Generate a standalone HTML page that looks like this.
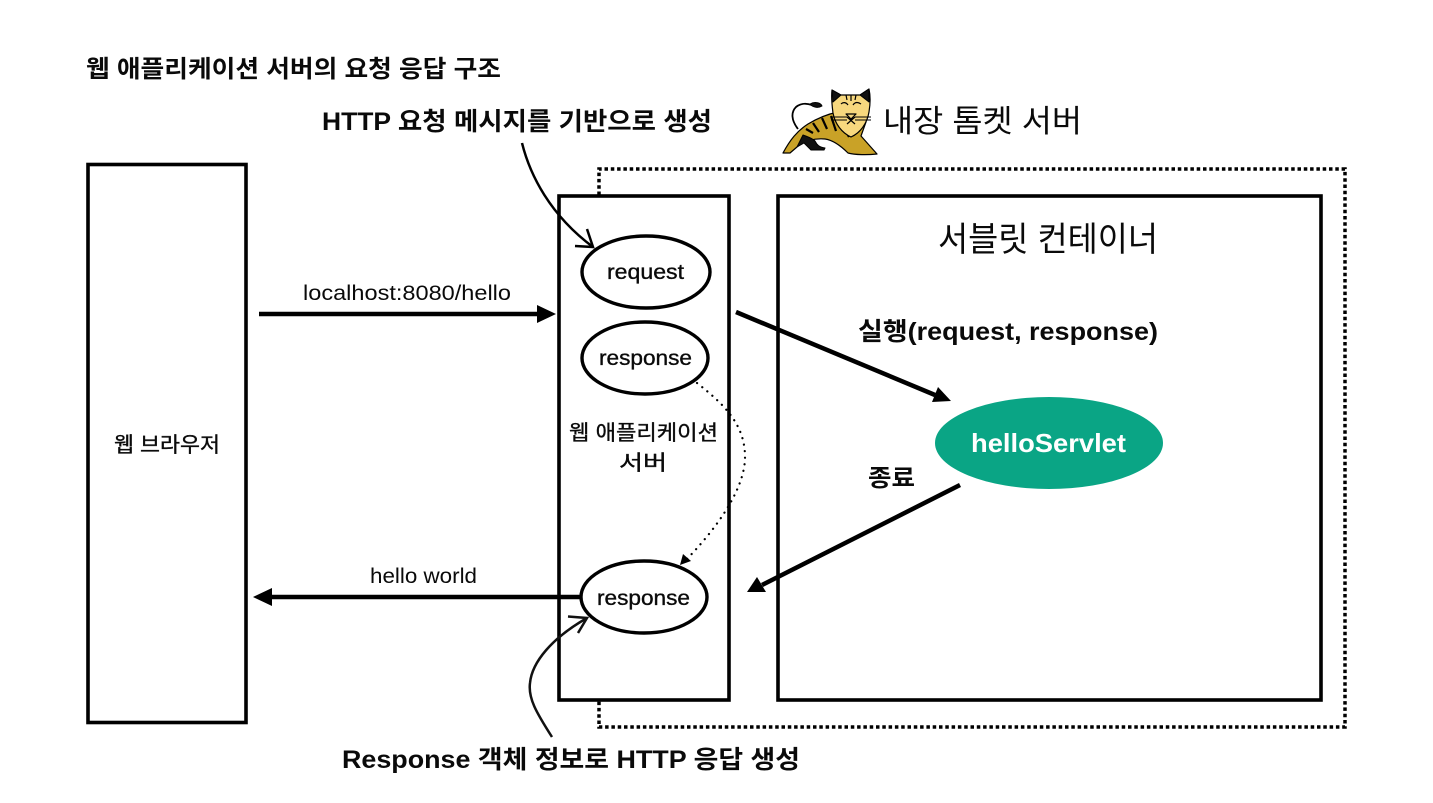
<!DOCTYPE html>
<html lang="ko">
<head>
<meta charset="utf-8">
<style>
html,body{margin:0;padding:0;background:#fff;width:1433px;height:803px;overflow:hidden}
svg{display:block}
text{font-family:"Liberation Sans","Noto Sans CJK KR",sans-serif;fill:#0a0a0a}
.b{font-weight:700}
.m{stroke:#0a0a0a;stroke-width:.35px}
</style>
</head>
<body>
<svg width="1433" height="803" viewBox="0 0 1433 803" xmlns="http://www.w3.org/2000/svg">
<rect width="1433" height="803" fill="#fff"/>

<!-- dotted tomcat box -->
<path d="M599 195V169H1345V727H599V701" fill="none" stroke="#000" stroke-width="3.500" stroke-dasharray="3.500 2.800"/>

<!-- boxes -->
<rect x="88" y="164.500" width="158" height="558" fill="#fff" stroke="#000" stroke-width="3.600"/>
<rect x="559" y="196" width="170" height="504" fill="#fff" stroke="#000" stroke-width="3.600"/>
<rect x="778" y="196" width="543" height="504" fill="#fff" stroke="#000" stroke-width="3.600"/>

<!-- ellipses -->
<ellipse cx="646" cy="272" rx="64" ry="36" fill="#fff" stroke="#000" stroke-width="3.400"/>
<ellipse cx="645" cy="358" rx="63" ry="36" fill="#fff" stroke="#000" stroke-width="3.400"/>
<ellipse cx="644" cy="597" rx="63" ry="36" fill="#fff" stroke="#000" stroke-width="3.400"/>
<ellipse cx="1049" cy="443" rx="114" ry="46" fill="#0aa585"/>

<!-- straight arrows -->
<path d="M259 314H540" stroke="#000" stroke-width="4.500" fill="none"/>
<path d="M556 314L537 305V323Z" fill="#000"/>
<path d="M580 597H268" stroke="#000" stroke-width="4.500" fill="none"/>
<path d="M253 597L272 588V606Z" fill="#000"/>
<path d="M736 312L935 395" stroke="#000" stroke-width="4.500" fill="none"/>
<path d="M951 401L938 387L932 402Z" fill="#000"/>
<path d="M960 485L762 585" stroke="#000" stroke-width="4.500" fill="none"/>
<path d="M747 592L766 592L757 577Z" fill="#000"/>

<!-- curved arrows -->
<path d="M522 143C530 175 550 215 593 247" fill="none" stroke="#000" stroke-width="2.500"/>
<path d="M587 229L593 247L575 246" fill="none" stroke="#000" stroke-width="2.500"/>
<path d="M552 737C536 712 528 698 530 683C532 662 552 638 587 618" fill="none" stroke="#111" stroke-width="2.500"/>
<path d="M568 616.500L587 618L578 633" fill="none" stroke="#111" stroke-width="2.500"/>

<!-- dotted connector -->
<path d="M697 383C725 405 745 425 745 457C745 490 715 530 686 560" fill="none" stroke="#000" stroke-width="2.200" stroke-dasharray="0.100 6.500" stroke-linecap="round"/>
<path d="M680 565L683 554L691 561Z" fill="#000"/>

<!-- tomcat -->
<g stroke="#000" stroke-linejoin="round">
  <path d="M798 129C791 120 791 112 796 107C801 103 806 103 812 105" fill="none" stroke-width="1.800"/>
  <path d="M810 104C815 101 821 103 822 106C819 108 813 108 810 104Z" fill="#111" stroke-width="1"/>
  <path d="M783 153C790 140 797 131 808 124C818 118 828 114 838 112L866 122L861 136L877 154C868 155 855 155 848 153C840 145 832 140 825 139C815 138 803 141 797 147L790 153Z" fill="#c9a227" stroke-width="1.200"/>
  <path d="M803 135C808 137 812 138 815 141C817 145 819 147 825 148L824 150H811L804 143L797 147Z" fill="#111" stroke-width="1"/>
  <path d="M831 116L836 131M822 118L827 129M813 123L819 132M843 126L849 137M806 129L813 133" fill="none" stroke-width="2.200"/>
  <path d="M832 90L841 95H860L869 89C871 98 870 106 869 112C867 124 860 133 851 137C842 133 835 124 833 113C832 105 831 98 832 90Z" fill="#f7d87e" stroke-width="1.200"/>
  <path d="M832 90L841 95L833 102ZM869 89L860 95L869 102Z" fill="#111" stroke-width="1"/>
  <path d="M846 95L847 100M851 95V101M856 95L855 100" stroke-width="1.200" fill="none"/>
  <path d="M841 104C843 102 846 102 848 105M853 105C855 102 858 102 861 104M846 114H856L851 119ZM847 124L855 117M855 124L847 117" stroke-width="1.200" fill="none"/>
  <path d="M831 117H847M831 120H847M855 117H871M855 120H871" stroke-width="1" fill="none"/>
</g>

<!-- texts -->
<text class="b" x="86" y="77" font-size="24" textLength="415" lengthAdjust="spacingAndGlyphs">웹 애플리케이션 서버의 요청 응답 구조</text>
<text class="b" x="322" y="130" font-size="25" textLength="390" lengthAdjust="spacingAndGlyphs">HTTP 요청 메시지를 기반으로 생성</text>
<text x="883" y="132" font-size="31" textLength="199" lengthAdjust="spacingAndGlyphs">내장 톰켓 서버</text>
<text x="938" y="251" font-size="34" textLength="220" lengthAdjust="spacingAndGlyphs">서블릿 컨테이너</text>
<text class="m" x="114" y="452" font-size="21" textLength="106" lengthAdjust="spacingAndGlyphs">웹 브라우저</text>
<text x="303" y="300" font-size="21" textLength="208" lengthAdjust="spacingAndGlyphs">localhost:8080/hello</text>
<text x="370" y="583" font-size="21" textLength="107" lengthAdjust="spacingAndGlyphs">hello world</text>
<text class="m" x="607" y="279" font-size="21" textLength="77" lengthAdjust="spacingAndGlyphs">request</text>
<text class="m" x="599" y="365" font-size="21" textLength="93" lengthAdjust="spacingAndGlyphs">response</text>
<text class="m" x="597" y="605" font-size="21" textLength="93" lengthAdjust="spacingAndGlyphs">response</text>
<text class="m" x="569" y="440" font-size="21" textLength="149" lengthAdjust="spacingAndGlyphs">웹 애플리케이션</text>
<text class="m" x="619" y="470" font-size="21" textLength="48" lengthAdjust="spacingAndGlyphs">서버</text>
<text class="b" x="858" y="340" font-size="25" textLength="300" lengthAdjust="spacingAndGlyphs">실행(request, response)</text>
<text class="b" x="971" y="452" font-size="26" textLength="155" lengthAdjust="spacingAndGlyphs" style="fill:#fff">helloServlet</text>
<text class="b" x="868" y="486" font-size="24" textLength="47" lengthAdjust="spacingAndGlyphs">종료</text>
<text class="b" x="342" y="768" font-size="25" textLength="458" lengthAdjust="spacingAndGlyphs">Response 객체 정보로 HTTP 응답 생성</text>
</svg>
</body>
</html>
